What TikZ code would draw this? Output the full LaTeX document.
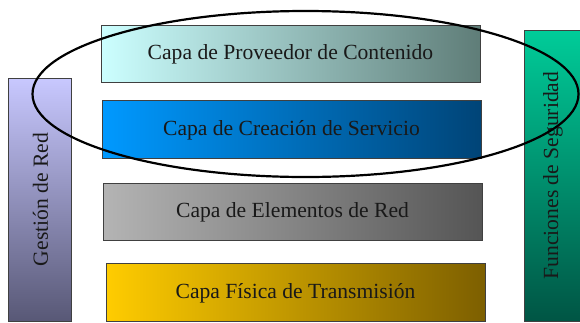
\documentclass[tikz,border=0pt]{standalone}
\usepackage{fontspec}
\setmainfont{Liberation Serif}
\begin{document}
\begin{tikzpicture}[x=1pt,y=-1pt,
  layer/.style={draw=black!75,line width=0.8pt},
  lbl/.style={font=\fontsize{21.6}{24}\selectfont,text=black!90}]
\useasboundingbox (0,0) rectangle (580,322);
% layers
\shade[layer,left color={rgb,255:red,204;green,255;blue,255},right color={rgb,255:red,95;green,125;blue,120}] (101,25) rectangle (480,82);
\node[lbl] (prov) at (290.5,54.5) {Capa de Proveedor de Contenido};
\shade[layer,left color={rgb,255:red,0;green,153;blue,255},right color={rgb,255:red,0;green,68;blue,119}] (102,100) rectangle (481,158);
\node[lbl] (crea) at (291.5,130) {Capa de Creación de Servicio};
\shade[layer,left color={rgb,255:red,180;green,180;blue,180},right color={rgb,255:red,85;green,85;blue,85}] (103,183) rectangle (482,240);
\node[lbl] (elem) at (292.5,212.5) {Capa de Elementos de Red};
\shade[layer,left color={rgb,255:red,255;green,204;blue,0},right color={rgb,255:red,125;green,95;blue,0}] (106,263) rectangle (485,321);
\node[lbl] (fis) at (295.5,293) {Capa Física de Transmisión};
% side bars
\shade[layer,top color={rgb,255:red,200;green,200;blue,255},bottom color={rgb,255:red,88;green,88;blue,118}] (8,78) rectangle (71,321);
\node[lbl,rotate=90] (gest) at (40.5,199.5) {Gestión de Red};
\shade[layer,top color={rgb,255:red,0;green,204;blue,153},bottom color={rgb,255:red,0;green,85;blue,68}] (524,30) rectangle (580,321);
\node[lbl,rotate=90] (func) at (553,175.5) {Funciones de Seguridad};
% ellipse
\draw[line width=2.2pt] (305.5,94) ellipse [x radius=273, y radius=83];
\end{tikzpicture}
\end{document}
